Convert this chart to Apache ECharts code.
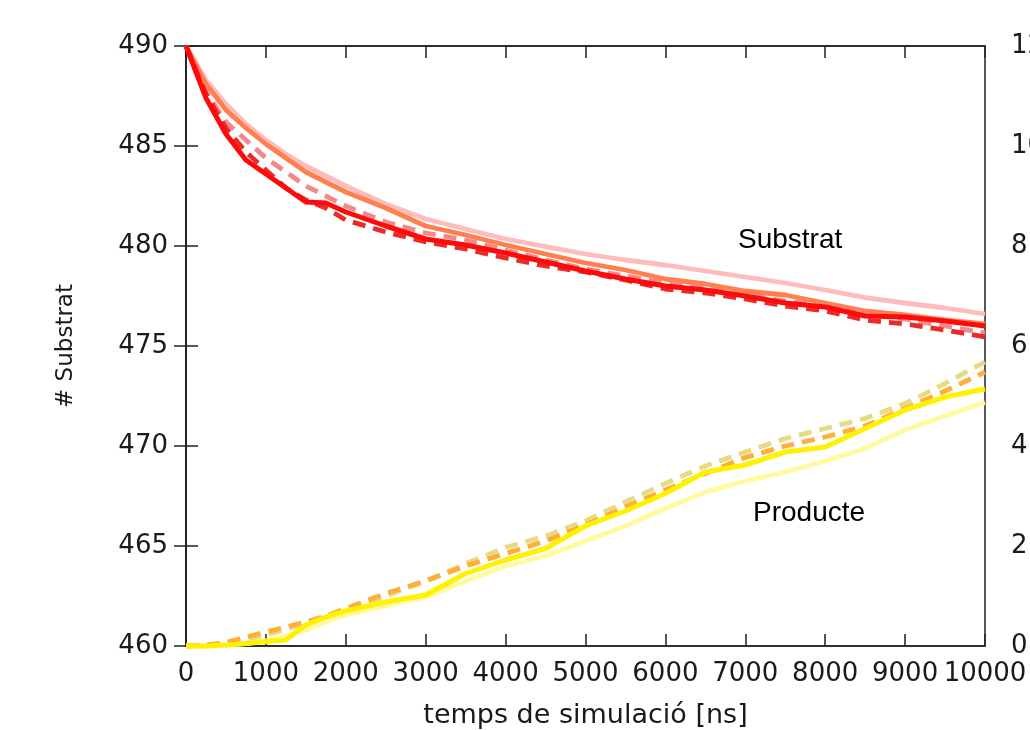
<!DOCTYPE html>
<html>
<head>
<meta charset="utf-8">
<script src="https://cdn.jsdelivr.net/npm/echarts@6/dist/echarts.min.js"></script>
<style>html,body{margin:0;padding:0;background:#fff;overflow:hidden;}#c{width:1030px;height:730px;}</style>
</head>
<body>
<div id="c"></div>
<script>
var times = [0,250,500,750,1000,1250,1500,1750,2000,2500,3000,3500,4000,4500,5000,5500,6000,6500,7000,7500,8000,8500,9000,9500,10000];
var xTicks = [0,1000,2000,3000,4000,5000,6000,7000,8000,9000,10000];
var leftTicks = [460,465,470,475,480,485,490];
var rightTicks = [0,2,4,6,8,10,12];

// Substrat (left axis)
var subLightPink = [490,488.3,487.1,486.1,485.3,484.6,484.0,483.5,483.0,482.1,481.35,480.85,480.35,479.97,479.6,479.3,479.05,478.75,478.45,478.15,477.8,477.42,477.15,476.9,476.6];
var subOrange    = [490,488.1,486.8,485.9,485.1,484.4,483.7,483.2,482.7,481.9,481.0,480.55,480.05,479.6,479.15,478.8,478.35,478.1,477.75,477.55,477.15,476.75,476.55,476.3,476.1];
var subPinkDash  = [490,487.7,486.2,485.3,484.4,483.7,483.0,482.5,482.0,481.2,480.65,480.3,479.8,479.3,478.85,478.5,478.15,477.9,477.55,477.25,477.0,476.6,476.35,476.0,475.65];
var subRedDash   = [490,487.6,485.9,484.7,483.8,482.9,482.3,481.9,481.3,480.7,480.2,479.85,479.4,479.0,478.7,478.3,477.85,477.65,477.35,477.0,476.75,476.3,476.1,475.8,475.45];
var subRed       = [490,487.4,485.6,484.3,483.6,482.9,482.2,482.15,481.7,481.0,480.35,480.05,479.65,479.2,478.75,478.35,478.0,477.8,477.5,477.15,476.95,476.5,476.45,476.25,476.0];

// Producte (right axis)
var prodPale      = [0,0,0.02,0.05,0.1,0.2,0.32,0.48,0.62,0.8,0.98,1.3,1.6,1.8,2.1,2.4,2.75,3.08,3.3,3.48,3.7,3.95,4.32,4.6,4.87];
var prodKhakiDash = [0,0.01,0.05,0.13,0.22,0.33,0.45,0.58,0.72,1.0,1.3,1.65,1.97,2.2,2.5,2.88,3.25,3.6,3.88,4.15,4.35,4.55,4.85,5.25,5.68];
var prodOrangeDash= [0,0.02,0.07,0.18,0.28,0.38,0.48,0.6,0.75,1.05,1.3,1.6,1.85,2.1,2.42,2.78,3.12,3.45,3.77,4.0,4.18,4.4,4.75,5.1,5.48];
var prodYellow    = [0,0,0.02,0.05,0.09,0.12,0.42,0.58,0.7,0.88,1.02,1.45,1.72,1.95,2.4,2.7,3.05,3.48,3.62,3.88,3.98,4.35,4.72,4.98,5.14];

function pairs(v){ return times.map(function(t,i){ return [t, v[i]]; }); }
function line(name, vals, color, width, dashed, yIdx){
  return {
    name: name, type: 'line', yAxisIndex: yIdx, data: pairs(vals),
    showSymbol: false, symbol: 'none', clip: false, silent: true,
    lineStyle: { color: color, width: width, type: dashed ? [13,8] : 'solid', cap: 'butt', join: 'round' }
  };
}

var chart = echarts.init(document.getElementById('c'));
var axisFont = { fontFamily: 'DejaVu Sans', fontSize: 26, color: '#1a1a1a' };
var ax = { color: '#222', width: 1.5 };
chart.setOption({
  animation: false,
  backgroundColor: '#fff',
  grid: { left: 186, right: 45, top: 46, bottom: 84, show: true, borderColor: '#222', borderWidth: 1.5, containLabel: false, outerBoundsMode: 'none' },
  xAxis: [{
    type: 'value', min: 0, max: 10000, interval: 1000, position: 'bottom',
    name: 'temps de simulació [ns]', nameLocation: 'middle', nameGap: 56,
    nameTextStyle: { fontFamily: 'DejaVu Sans', fontSize: 27, color: '#1a1a1a' },
    axisLine: { show: true, lineStyle: ax },
    axisTick: { show: true, inside: true, length: 12, lineStyle: ax },
    axisLabel: Object.assign({ margin: 15, showMinLabel: true, showMaxLabel: true, hideOverlap: false,
      formatter: function(v){ return xTicks.indexOf(v) >= 0 ? String(v) : ''; } }, axisFont),
    splitLine: { show: false }
  }, {
    type: 'value', min: 0, max: 10000, interval: 1000, position: 'top',
    axisLine: { show: true, lineStyle: ax },
    axisTick: { show: true, inside: true, length: 12, lineStyle: ax },
    axisLabel: { show: false }, splitLine: { show: false }
  }],
  yAxis: [{
    type: 'value', min: 460, max: 490, interval: 5, position: 'left',
    name: '# Substrat', nameLocation: 'middle', nameGap: 108, nameRotate: 90,
    nameTextStyle: { fontFamily: 'DejaVu Sans', fontSize: 23, color: '#1a1a1a' },
    axisLine: { show: true, lineStyle: ax },
    axisTick: { show: true, inside: true, length: 12, lineStyle: ax },
    axisLabel: Object.assign({ margin: 18, showMinLabel: true, showMaxLabel: true,
      formatter: function(v){ return leftTicks.indexOf(v) >= 0 ? String(v) : ''; } }, axisFont),
    splitLine: { show: false }
  }, {
    type: 'value', min: 0, max: 12, interval: 2, position: 'right',
    axisLine: { show: true, lineStyle: ax },
    axisTick: { show: true, inside: true, length: 12, lineStyle: ax },
    axisLabel: Object.assign({ margin: 26, align: 'left', showMinLabel: true, showMaxLabel: true,
      formatter: function(v){ return rightTicks.indexOf(v) >= 0 ? String(v) : ''; } }, axisFont),
    splitLine: { show: false }
  }],
  series: [
    line('S light pink', subLightPink, '#ffbcbc', 4.8, false, 0),
    line('P pale', prodPale, '#fffaa0', 4.8, false, 1),
    line('P khaki dash', prodKhakiDash, '#e8da82', 4.8, true, 1),
    line('S orange', subOrange, '#ff7f4f', 4.8, false, 0),
    line('S pink dash', subPinkDash, '#f08a8a', 4.8, true, 0),
    line('P orange dash', prodOrangeDash, '#ffae3a', 4.8, true, 1),
    line('S red dash', subRedDash, '#ec2a2a', 4.8, true, 0),
    line('P yellow', prodYellow, '#fff200', 5, false, 1),
    line('S red', subRed, '#ff0a0a', 5, false, 0)
  ],
  graphic: [
    { type: 'text', left: 738, top: 226, style: { text: 'Substrat', font: '28px "Liberation Sans", Arial, sans-serif', fill: '#000' } },
    { type: 'text', left: 753, top: 499, style: { text: 'Producte', font: '28px "Liberation Sans", Arial, sans-serif', fill: '#000' } }
  ]
});
</script>
</body>
</html>
